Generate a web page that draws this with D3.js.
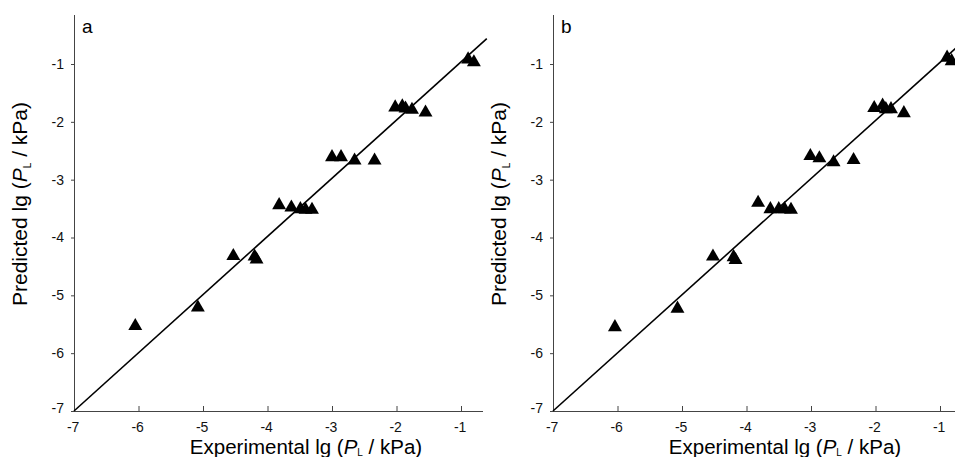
<!DOCTYPE html>
<html>
<head>
<meta charset="utf-8">
<script src="https://cdn.jsdelivr.net/npm/d3@7"></script>
<style>
  body { margin: 0; background: #fff; }
  svg { display: block; font-family: "Liberation Sans", Arial, sans-serif; }
</style>
</head>
<body>
<div id="chart"></div>
<script>
var ticks = [-7, -6, -5, -4, -3, -2, -1];

// panel a
var expA  = [-6.05, -5.08, -4.53, -4.20, -4.17, -3.82, -3.63, -3.49, -3.41, -3.31,
             -3.00, -2.86, -2.65, -2.34, -2.02, -1.91, -1.86, -1.76, -1.55, -0.89, -0.80];
var predA = [-5.53, -5.21, -4.32, -4.33, -4.38, -3.44, -3.48, -3.51, -3.52, -3.52,
             -2.61, -2.61, -2.67, -2.67, -1.75, -1.73, -1.77, -1.79, -1.84, -0.92, -0.97];
// panel b
var expB  = [-6.04, -5.07, -4.52, -4.20, -4.17, -3.82, -3.63, -3.50, -3.41, -3.31,
             -3.01, -2.87, -2.65, -2.34, -2.02, -1.89, -1.84, -1.76, -1.56, -0.89, -0.82];
var predB = [-5.55, -5.23, -4.33, -4.34, -4.39, -3.40, -3.51, -3.51, -3.51, -3.52,
             -2.59, -2.63, -2.70, -2.66, -1.76, -1.72, -1.78, -1.78, -1.85, -0.89, -0.95];

// fitted lines (x, y)
var lineA = [[-7, -7], [-0.6, -0.56]];
var lineB = [[-7, -7], [-0.6, -0.57]];

var panels = [
  { label: 'a', x: expA, y: predA, line: lineA, left: 74, right: 483 },
  { label: 'b', x: expB, y: predB, line: lineB, left: 553, right: 966 }
];

var width = 955, height = 457;
var plotTop = 15, plotBottom = 411;

var svg = d3.select('#chart')
  .append('svg')
    .attr('width', width)
    .attr('height', height);

var axisColor = '#444';
var fmt = function (d) { return String(d); };

panels.forEach(function (p) {
  var x = d3.scaleLinear().domain([-7, -0.6]).range([p.left, p.left + 6.4 * 64.5]);
  var y = d3.scaleLinear().domain([-7, -1]).range([plotBottom, 64]);

  var g = svg.append('g');

  // axes
  var xAxis = g.append('g')
    .attr('transform', 'translate(0,' + plotBottom + ')')
    .call(d3.axisBottom(x).tickValues(ticks).tickSizeInner(-5).tickSizeOuter(0).tickFormat(fmt));
  xAxis.select('.domain').attr('d', 'M' + p.left + ',0.5H' + p.right);
  xAxis.selectAll('line, .domain').attr('stroke', axisColor).attr('stroke-width', 1);
  xAxis.selectAll('text')
    .attr('y', 11)
    .attr('dx', '-0.1em')
    .style('font-size', '14px')
    .style('fill', '#111');

  var yAxis = g.append('g')
    .attr('transform', 'translate(' + p.left + ',0)')
    .call(d3.axisLeft(y).tickValues(ticks).tickSizeInner(3).tickSizeOuter(0).tickFormat(fmt));
  yAxis.select('.domain').attr('d', 'M0.5,' + plotTop + 'V' + plotBottom);
  yAxis.selectAll('line, .domain').attr('stroke', axisColor).attr('stroke-width', 1);
  yAxis.selectAll('text')
    .attr('x', -10)
    .style('font-size', '14px')
    .style('fill', '#111');
  yAxis.selectAll('.tick').filter(function (d) { return d === -7; })
    .select('text').attr('dy', '0.1em');

  // fitted line
  g.append('path')
    .datum(p.line)
    .attr('fill', 'none')
    .attr('stroke', '#000')
    .attr('stroke-width', 1.6)
    .attr('d', d3.line().x(function (d) { return x(d[0]); }).y(function (d) { return y(d[1]); }));

  // points
  var pts = p.x.map(function (v, i) { return [v, p.y[i]]; });
  g.selectAll('path.pt')
    .data(pts)
    .enter().append('path')
      .classed('pt', true)
      .attr('d', d3.symbol().type(d3.symbolTriangle).size(84))
      .attr('transform', function (d) { return 'translate(' + x(d[0]) + ',' + y(d[1]) + ')'; })
      .attr('fill', '#000');

  // panel label
  g.append('text')
    .attr('x', p.left + 8)
    .attr('y', 33)
    .style('font-size', '19px')
    .text(p.label);

  // axis titles
  var xt = g.append('text')
    .attr('x', p.left + 232)
    .attr('y', 454)
    .attr('text-anchor', 'middle')
    .style('font-size', '20.5px');
  xt.append('tspan').text('Experimental lg (');
  xt.append('tspan').style('font-style', 'italic').text('P');
  xt.append('tspan').attr('dy', 2).style('font-size', '10px').text('L');
  xt.append('tspan').attr('dy', -2).text(' / kPa)');

  var yt = g.append('text')
    .attr('transform', 'translate(' + (p.left - 47) + ',204) rotate(-90)')
    .attr('text-anchor', 'middle')
    .style('font-size', '21px');
  yt.append('tspan').text('Predicted lg (');
  yt.append('tspan').style('font-style', 'italic').text('P');
  yt.append('tspan').attr('dy', 4).style('font-size', '10px').text('L');
  yt.append('tspan').attr('dy', -4).text(' / kPa)');
});
</script>
</body>
</html>
